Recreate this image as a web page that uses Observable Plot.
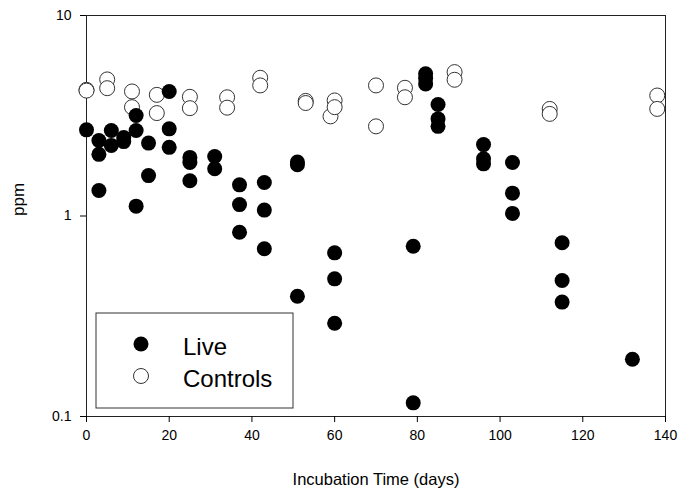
<!DOCTYPE html>
<html><head><meta charset="utf-8">
<script src="https://cdn.jsdelivr.net/npm/d3@7"></script>
<script src="https://cdn.jsdelivr.net/npm/@observablehq/plot@0.6"></script>
<style>body{margin:0;background:#fff} #chart svg{display:block}</style>
</head><body><div id="chart"></div>
<script>
// Live samples (day, ppm)
const liveDays = [0, 3,3,3, 6,6, 9,9, 12,12,12, 15,15, 20,20,20, 25,25,25, 31,31, 37,37,37, 43,43,43, 51,51,51, 60,60,60, 79,79, 82,82,82, 85,85,85, 96,96,96, 103,103,103, 115,115,115, 132];
const livePpm  = [2.69, 2.38,2.03,1.34, 2.67,2.25, 2.46,2.35, 3.17,2.67,1.12, 2.31,1.59, 4.18,2.72,2.20, 1.96,1.85,1.50, 1.98,1.72, 1.43,1.14,0.83, 1.47,1.07,0.686, 1.86,1.80,0.398, 0.655,0.486,0.292, 0.707,0.117, 5.12,4.85,4.56, 3.60,3.05,2.80, 2.27,1.93,1.82, 1.85,1.30,1.03, 0.735,0.477,0.372, 0.193];
// Controls (day, ppm)
const controlDays = [0,0, 5,5, 11,11, 17,17, 25,25, 34,34, 42,42, 53,53, 59, 60,60, 70,70, 77,77, 89,89, 112,112, 138,138];
const controlPpm  = [4.26,4.22, 4.80,4.34, 4.18,3.49, 4.02,3.26, 3.93,3.45, 3.91,3.47, 4.89,4.48, 3.75,3.66, 3.14, 3.77,3.49, 4.48,2.80, 4.36,3.91, 5.22,4.78, 3.42,3.23, 3.99,3.42];

const xTicks = [0, 20, 40, 60, 80, 100, 120, 140];
const yTicks = [0.1, 1, 10];
const yTickLabels = ["0.1", "1", "10"];
const xLabel = "Incubation Time (days)";
const yLabel = "ppm";
const legendLabels = ["Live", "Controls"];

const live = liveDays.map((d, i) => ({day: d, ppm: livePpm[i]}));
const controls = controlDays.map((d, i) => ({day: d, ppm: controlPpm[i]}));

const font = "'Liberation Sans', Arial, sans-serif";
const chart = Plot.plot({
  width: 681, height: 502,
  marginLeft: 86, marginRight: 16, marginTop: 15, marginBottom: 86,
  style: {fontFamily: font, fontSize: "14px", background: "#fff", color: "#000"},
  x: {domain: [0, 140]},
  y: {type: "log", domain: [0.1, 10]},
  marks: [
    Plot.frame({stroke: "#222"}),
    Plot.axisX({ticks: xTicks, tickSize: 6, tickPadding: 8, label: null, fontSize: 14}),
    Plot.axisY({ticks: yTicks, tickFormat: d => yTickLabels[yTicks.indexOf(d)], tickSize: 6, tickPadding: 9, label: null, fontSize: 14}),
    Plot.dot(controls, {x: "day", y: "ppm", r: 7.5, fill: "#fff", stroke: "#333", strokeWidth: 1}),
    Plot.dot(live, {x: "day", y: "ppm", r: 7.5, fill: "#000", stroke: "none"}),
    Plot.text([yLabel], {text: d => d, frameAnchor: "left", rotate: -90, dx: -68, fontSize: 17}),
    Plot.text([xLabel], {text: d => d, frameAnchor: "bottom", dy: 68, fontSize: 16.5})
  ]
});
document.getElementById("chart").append(chart);

// Legend box inside the plot area
const svg = d3.select(chart);
const lg = svg.append("g").attr("font-family", font).attr("text-anchor", "start");
lg.append("rect").attr("x", 96).attr("y", 313).attr("width", 197).attr("height", 95)
  .attr("fill", "#fff").attr("stroke", "#333").attr("stroke-width", 1);
const legendStyles = [{fill: "#000", stroke: "none"}, {fill: "#fff", stroke: "#333"}];
legendLabels.forEach((lab, i) => {
  const cy = 344 + i * 32;
  lg.append("circle").attr("cx", 141).attr("cy", cy).attr("r", 7.5)
    .attr("fill", legendStyles[i].fill).attr("stroke", legendStyles[i].stroke);
  lg.append("text").attr("x", 183).attr("y", cy + 11).attr("font-size", 24)
    .attr("text-anchor", "start").attr("fill", "#000").text(lab);
});
</script>
</body></html>
